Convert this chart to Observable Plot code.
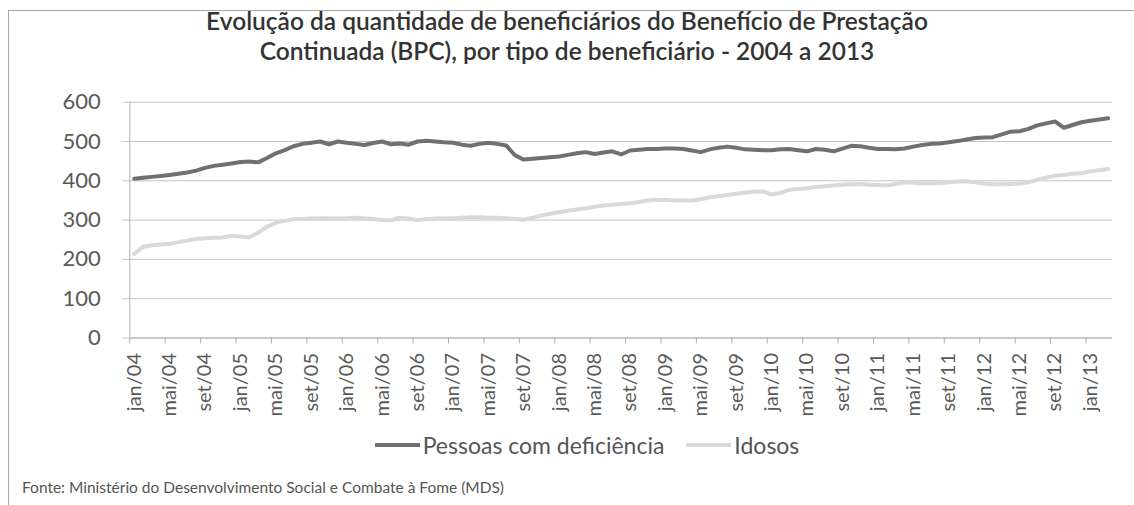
<!DOCTYPE html>
<html>
<head>
<meta charset="utf-8">
<script src="https://cdn.jsdelivr.net/npm/d3@7"></script>
<script src="https://cdn.jsdelivr.net/npm/@observablehq/plot@0.6"></script>
<style>
  html, body { margin: 0; padding: 0; background: #fff; }
  body { width: 1134px; height: 505px; position: relative; overflow: hidden; font-family: Lato, "Open Sans", sans-serif; }
  #frame { position: absolute; left: 8px; top: 10px; right: -10px; bottom: -10px; border-left: 1px solid #a8a8a8; border-top: 1px solid #a8a8a8; }
  #title { position: absolute; left: 0; width: 1134px; top: 6px; text-align: center; font-size: 24.5px; font-weight: 600; color: #333; line-height: 30px; letter-spacing: 0; }
  #chart { position: absolute; left: 0; top: 0; }
  #legend { position: absolute; top: 431px; left: 0; width: 1134px; display: flex; justify-content: center; align-items: center; font-size: 23px; color: #555; padding-left: 40px; box-sizing: border-box; }
  #legend .sw { display: inline-block; width: 45px; height: 4px; margin-right: 3px; }
  #legend .item { display: flex; align-items: center; margin: 0 11px; }
  #source { position: absolute; left: 22px; top: 478px; font-size: 15.5px; color: #555; letter-spacing: 0; }
</style>
</head>
<body>
<div id="frame"></div>
<div id="chart"></div>
<div id="title"></div>
<div id="legend"></div>
<div id="source"></div>
<script>
// ---- data ----
const titleLines = [
  "Evolução da quantidade de beneficiários do Benefício de Prestação",
  "Continuada (BPC), por tipo de beneficiário - 2004 a 2013"
];
const sourceText = "Fonte: Ministério do Desenvolvimento Social e Combate à Fome (MDS)";
const seriesNames = ["Pessoas com deficiência", "Idosos"];
const seriesColors = ["#707070", "#d9d9d9"];

// monthly, jan/2004 .. mar/2013 (thousands)
const pessoasComDeficiencia = [
  405, 408, 410, 412, 415, 418, 421, 426, 433, 438, 441, 444,
  448, 449, 447, 458, 470, 478, 488, 494, 497, 500, 493, 500,
  497, 494, 491, 496, 500, 493, 495, 492, 500, 502, 500, 498,
  497, 492, 489, 494, 497, 494, 490, 465, 454, 456, 458, 460,
  462, 466, 470, 473, 468, 472, 475, 467, 477, 479, 481, 481,
  482, 482, 481, 477, 473, 480, 484, 487, 484, 480, 479, 478,
  478, 480, 481, 478, 475, 481, 479, 475, 482, 489, 488, 484,
  481, 481, 480, 482, 487, 491, 494, 495, 498, 501, 505, 509,
  510, 511, 518, 525, 526, 532, 541, 546, 551, 535, 542, 549,
  553, 556, 559
];
const idosos = [
  214, 232, 236, 238, 240, 244, 248, 252, 254, 255, 256, 260,
  258, 256, 268, 283, 293, 298, 302, 303, 304, 305, 305, 304,
  305, 306, 305, 303, 300, 299, 306, 304, 300, 302, 304, 305,
  305, 306, 307, 307, 306, 306, 305, 303, 301, 306, 312, 316,
  320, 324, 327, 330, 334, 337, 339, 341, 343, 346, 350, 352,
  351, 350, 350, 350, 353, 358, 361, 364, 367, 370, 372, 373,
  365, 369, 377, 379, 381, 384, 386, 388, 390, 391, 392, 390,
  389, 388, 392, 396, 395, 394, 394, 394, 396, 398, 399, 396,
  393, 391, 391, 392, 393, 396, 403, 408, 413, 415, 418, 419,
  424, 427, 430
];
const xTickLabels = [
  "jan/04","mai/04","set/04","jan/05","mai/05","set/05","jan/06","mai/06","set/06",
  "jan/07","mai/07","set/07","jan/08","mai/08","set/08","jan/09","mai/09","set/09",
  "jan/10","mai/10","set/10","jan/11","mai/11","set/11","jan/12","mai/12","set/12","jan/13"
];
const yTicks = [0, 100, 200, 300, 400, 500, 600];
const monthsPerLabel = 4;

// ---- build ----
const nMonths = pessoasComDeficiencia.length;
const rows = [];
pessoasComDeficiencia.forEach((v, i) => rows.push({m: i + 0.5, v, s: seriesNames[0]}));
idosos.forEach((v, i) => rows.push({m: i + 0.5, v, s: seriesNames[1]}));
const boundaryTicks = xTickLabels.map((_, k) => k * monthsPerLabel);
const labelPos = xTickLabels.map((_, k) => k * monthsPerLabel + 0.5);

const W = 1134, H = 430;
const chart = Plot.plot({
  width: W, height: H,
  marginLeft: 129.3, marginRight: 22, marginTop: 101.7, marginBottom: 92.5,
  style: {fontFamily: "Lato, 'Open Sans', sans-serif", color: "#595959", background: "transparent"},
  x: {domain: [0, nMonths], axis: null},
  y: {domain: [0, 600], axis: null},
  color: {domain: seriesNames, range: seriesColors},
  marks: [
    Plot.gridY(yTicks, {stroke: "#c4c4c4", strokeOpacity: 1, strokeWidth: 1}),
    Plot.axisY(yTicks, {label: null, tickSize: 7, tickPadding: 22, stroke: "#c4c4c4", fontSize: 22, fill: "#595959"}),
    Plot.ruleX([0], {stroke: "#b0b0b0"}),
    Plot.ruleY([0], {stroke: "#c0c0c0", strokeWidth: 1.5}),
    Plot.axisX(boundaryTicks, {label: null, tickSize: 6, tickFormat: () => "", stroke: "#b0b0b0"}),
    Plot.axisX(labelPos, {label: null, tickSize: 0, tickPadding: 15, tickRotate: -90, fontSize: 20, fill: "#595959",
      tickFormat: d => xTickLabels[Math.round((d - 0.5) / monthsPerLabel)]}),
    Plot.line(rows, {x: "m", y: "v", z: "s", stroke: "s", strokeWidth: 4, curve: "linear"})
  ]
});
document.getElementById("chart").appendChild(chart);

document.getElementById("title").innerHTML = titleLines.map(t => `<div>${t}</div>`).join("");
document.getElementById("source").textContent = sourceText;
document.getElementById("legend").innerHTML = seriesNames.map((n, i) =>
  `<span class="item"><span class="sw" style="background:${seriesColors[i]}"></span>${n}</span>`).join("");
</script>
</body>
</html>
